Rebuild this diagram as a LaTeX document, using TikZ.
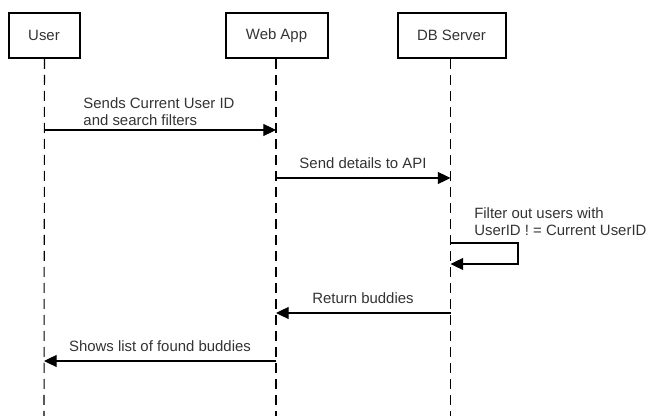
\documentclass[tikz,border=0pt]{standalone}
\usepackage{fontspec}
\setmainfont{Liberation Sans}
\usetikzlibrary{arrows.meta}
\definecolor{txt}{HTML}{333333}
\begin{document}
\begin{tikzpicture}[x=0.75pt,y=-0.75pt,
  font=\fontsize{11.2}{12.8}\selectfont,
  actor/.style={draw=black,line width=1.5pt,minimum height=45*0.75pt,inner sep=0pt,text=txt},
  life/.style={draw=black,line width=0.8pt,dash pattern=on 7.5pt off 4.5pt},
  msg/.style={draw=black,line width=0.8pt,-{Triangle[length=9.5pt,width=9pt]}},
  lbl/.style={text=txt,inner sep=0pt,align=left}]
\useasboundingbox (0,0) rectangle (650,416);
% actors
\node[actor,minimum width=71*0.75pt] (user) at (44,35.5) {User};
\node[actor,minimum width=102*0.75pt] (web) at (276.5,35.5) {Web App};
\node[actor,minimum width=108*0.75pt] (db) at (451.5,35.5) {DB Server};
% lifeline ends
\coordinate (userEnd) at (44,416);
\coordinate (webEnd) at (276,416);
\coordinate (dbEnd) at (450.5,416);
\draw[life] (user.south) ++(0.5,0) coordinate (us) -- (userEnd);
\draw[life] (web.south) ++(-0.5,0) coordinate (ws) -- (webEnd);
\draw[life] (db.south) ++(-1,0) coordinate (ds) -- (dbEnd);
% message anchor points
\coordinate (u1) at (44,130);  \coordinate (w1) at (276,130);
\coordinate (w2) at (276,178); \coordinate (d2) at (450.5,178);
\coordinate (d3a) at (450.5,243); \coordinate (c3a) at (518,243);
\coordinate (c3b) at (518,264); \coordinate (d3b) at (450.5,264);
\coordinate (d4) at (450.5,313); \coordinate (w4) at (276,313);
\coordinate (w5) at (276,361); \coordinate (u5) at (44,361);
% messages
\draw[msg] (u1) -- (w1);
\node[lbl,anchor=center] (l1) at (159,111.5) {Sends Current User ID\\and search filters};
\draw[msg] (w2) -- (d2);
\node[lbl] (l2) at (363,163.5) {Send details to API};
\draw[msg] (d3a) -- (c3a) -- (c3b) -- (d3b);
\node[lbl,anchor=west] (l3) at (474,222) {Filter out users with\\UserID ! = Current UserID};
\draw[msg] (d4) -- (w4);
\node[lbl] (l4) at (363,298.5) {Return buddies};
\draw[msg] (w5) -- (u5);
\node[lbl] (l5) at (160,346.5) {Shows list of found buddies};
\end{tikzpicture}
\end{document}
